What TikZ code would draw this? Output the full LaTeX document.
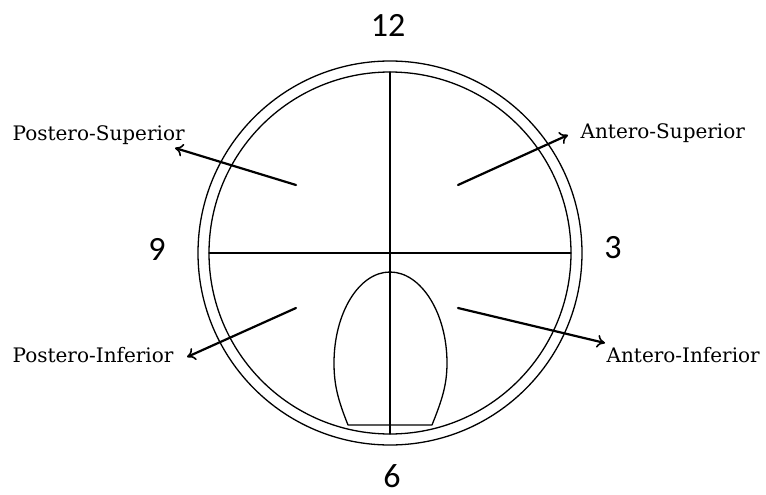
\documentclass[tikz,border=0pt]{standalone}
\usepackage{fontspec}
\setmainfont{DejaVu Serif}
\newfontfamily\numfont{Carlito}
\usetikzlibrary{arrows.meta}

\begin{document}
\begin{tikzpicture}[x=1pt, y=-1pt, line width=1.3pt,
                    line cap=round, line join=round,
                    pointer/.style={-{To[length=8pt,width=13pt,line width=1.6pt]}, line width=2.2pt},
                    region/.style={font=\fontsize{20}{23}\selectfont, inner sep=0pt, anchor=base west},
                    clock/.style={font=\numfont\fontsize{34}{36}\selectfont, inner sep=0pt}]
  \useasboundingbox (0,0) rectangle (766,495);

  % Clock face
  \coordinate (c) at (390,253);
  \draw (c) circle (192pt);
  \draw (c) circle (181pt);

  % Quadrant lines
  \draw (c) ++(-181,0) coordinate (w) -- ++(362,0) coordinate (e);
  \draw (c) ++(0,-181) coordinate (n) -- ++(0,362) coordinate (s);

  % Egg shape at the bottom
  \draw (348,425) .. controls (338,400) and (334,385) .. (334,363)
        .. controls (334,313) and (359,272) .. (390,272)
        .. controls (421,272) and (447,313) .. (447,363)
        .. controls (447,385) and (442,400) .. (432,425) -- cycle;

  % Clock numbers
  \node[clock] (h12) at (388,25)  {12};
  \node[clock] (h9)  at (157,249) {9};
  \node[clock] (h3)  at (613,248) {3};
  \node[clock] (h6)  at (392,476) {6};

  % Region labels
  \node[region] (ps) at (12,140)  {Postero-Superior};
  \node[region] (as) at (580,139) {Antero-Superior};
  \node[region] (pi) at (12,362)  {Postero-Inferior};
  \node[region] (ai) at (606,362) {Antero-Inferior};

  % Arrow starts and tips
  \coordinate (ps-from) at (296,185);
  \coordinate (as-from) at (458,185);
  \coordinate (pi-from) at (296,308);
  \coordinate (ai-from) at (458,308);
  \coordinate (ps-tip) at (175,148);
  \coordinate (as-tip) at (568,135);
  \coordinate (pi-tip) at (187,357);
  \coordinate (ai-tip) at (605,343);

  \draw[pointer] (ps-from) -- (ps-tip);
  \draw[pointer] (as-from) -- (as-tip);
  \draw[pointer] (pi-from) -- (pi-tip);
  \draw[pointer] (ai-from) -- (ai-tip);
\end{tikzpicture}
\end{document}
